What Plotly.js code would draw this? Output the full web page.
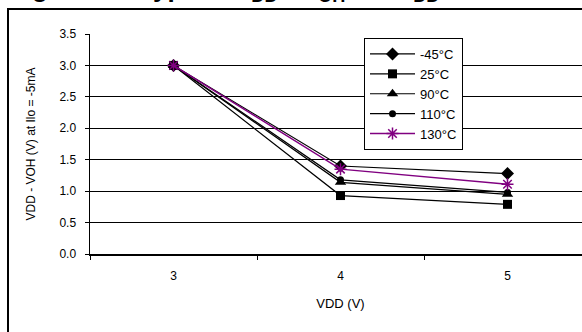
<!DOCTYPE html>
<html>
<head>
<meta charset="utf-8">
<script src="https://cdn.plot.ly/plotly-3.0.1.min.js"></script>
<style>
  html, body { margin: 0; padding: 0; overflow: hidden; background: #fff; }
  #chart { position: absolute; left: 0; top: 0; width: 620px; height: 360px; }
</style>
</head>
<body>
<div id="chart"></div>
<script>
// ---- data ----
const vdd = ['3', '4', '5'];
const seriesNames = ['-45°C', '25°C', '90°C', '110°C', '130°C'];
const tM45  = [3.0, 1.40, 1.28];
const t25   = [3.0, 0.93, 0.79];
const t90   = [3.0, 1.14, 0.95];
const t110  = [3.0, 1.18, 0.98];
const t130  = [3.0, 1.35, 1.11];
const yTickVals = [0, 0.5, 1.0, 1.5, 2.0, 2.5, 3.0, 3.5];
const yTickText = ['0.0', '0.5', '1.0', '1.5', '2.0', '2.5', '3.0', '3.5'];

const seriesValues = [tM45, t25, t90, t110, t130];
const symbols = ['diamond', 'square', 'triangle-up', 'circle', 'asterisk-open'];
const sizes = [10, 9, 10, 7, 10];
const colors = ['#000000', '#000000', '#000000', '#000000', '#800080'];

const traces = seriesValues.map((vals, i) => ({
  type: 'scatter',
  mode: 'lines+markers',
  name: seriesNames[i],
  x: vdd,
  y: vals,
  line: { color: colors[i], width: i === 4 ? 1.5 : 1.2 },
  marker: {
    symbol: symbols[i],
    size: sizes[i],
    color: colors[i],
    line: { color: colors[i], width: i === 4 ? 1.5 : 0 }
  }
}));

// plot area in pixels: x 90..591, y 34..254
const W = 620, H = 360;
const L = 90, R = W - 591, T = 34, B = H - 254;
const pw = W - L - R, ph = H - T - B;
const px = p => (p - L) / pw;
const py = p => (H - B - p) / ph;

const layout = {
  width: W,
  height: H,
  margin: { l: L, r: R, t: T, b: B, pad: 0 },
  paper_bgcolor: '#ffffff',
  plot_bgcolor: '#ffffff',
  font: { family: 'Arial, "Liberation Sans", sans-serif', color: '#000', size: 12 },
  showlegend: true,
  legend: {
    x: px(364), y: py(38), xanchor: 'left', yanchor: 'top',
    bgcolor: '#ffffff', bordercolor: '#000', borderwidth: 1,
    font: { size: 13, family: 'Arial, "Liberation Sans", sans-serif' },
    itemwidth: 45,
    tracegroupgap: 0
  },
  xaxis: {
    type: 'category',
    categoryarray: vdd,
    range: [-0.5, 2.5],
    showgrid: false,
    showline: true, linecolor: '#000', linewidth: 1.5,
    ticks: 'outside', ticklen: 4, tickcolor: '#000',
    tickson: 'boundaries',
    ticklabelstandoff: 10,
    tickfont: { size: 12 },
    zeroline: false,
    title: { text: 'VDD (V)', font: { size: 13 }, standoff: 17 }
  },
  yaxis: {
    range: [0, 3.5],
    tickvals: yTickVals,
    ticktext: yTickText,
    showgrid: true, gridcolor: '#000', gridwidth: 1,
    showline: true, linecolor: '#000', linewidth: 1.5,
    ticks: 'outside', ticklen: 4, tickcolor: '#000',
    ticklabelstandoff: 6,
    tickfont: { size: 12 },
    zeroline: false,
    title: { text: 'VDD - VOH (V) at Ilo = -5mA', font: { size: 12 }, standoff: 21 }
  },
  shapes: [
    {
      type: 'rect', xref: 'paper', yref: 'paper',
      x0: px(8), x1: px(640), y0: py(9), y1: py(400),
      line: { color: '#000', width: 2 }, fillcolor: 'rgba(0,0,0,0)', layer: 'above'
    }
  ],
  annotations: [
    {
      xref: 'paper', yref: 'paper',
      x: px(7), y: py(8.5), xanchor: 'left', yanchor: 'bottom',
      showarrow: false,
      text: '<b>Figure 10. Typical V<sub>DD</sub> - V<sub>OH</sub> vs. V<sub>DD</sub></b>',
      font: { size: 26, family: 'Arial, "Liberation Sans", sans-serif', color: '#000' }
    }
  ]
};

Plotly.newPlot('chart', traces, layout, { displayModeBar: false, staticPlot: true });
</script>
</body>
</html>
